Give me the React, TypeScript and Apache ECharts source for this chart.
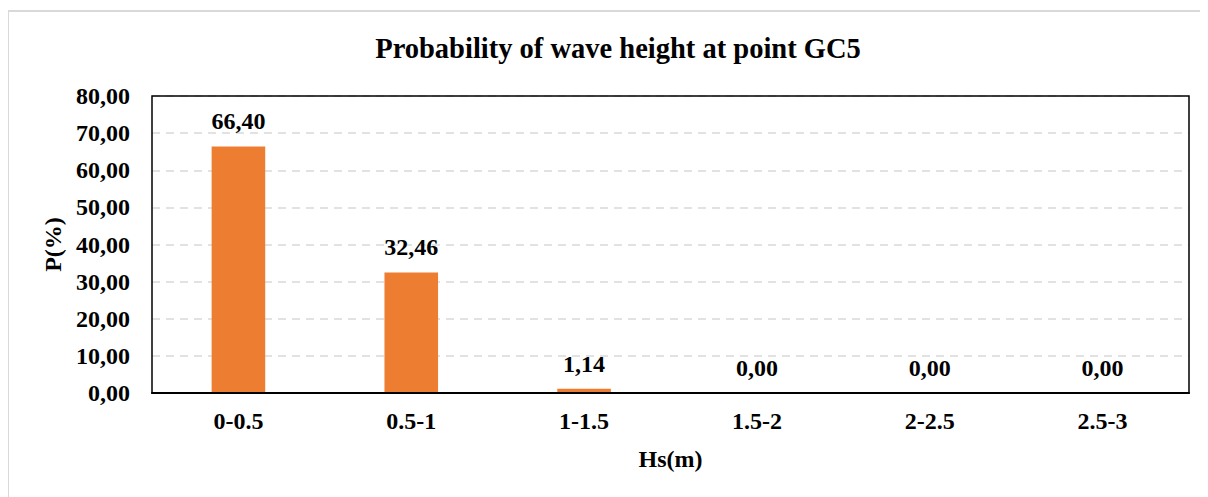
import React, { useEffect, useRef } from "react";
import * as echarts from "echarts";

const categories = ["0-0.5", "0.5-1", "1-1.5", "1.5-2", "2-2.5", "2.5-3"];
const probability = [66.4, 32.46, 1.14, 0.0, 0.0, 0.0];
const yTicks = { min: 0, max: 80, interval: 10 };

const FONT = "'Liberation Serif', 'Times New Roman', serif";
const fmt = (v: number) => v.toFixed(2).replace(".", ",");

// plot-area placement inside the 1200x489 canvas
const GRID = { left: 144, top: 88, right: 19, bottom: 104 };
const W = 1200;
const H = 489;

export default function App() {
  const ref = useRef<HTMLDivElement>(null);

  useEffect(() => {
    if (!ref.current) return;
    const chart = echarts.init(ref.current, undefined, { renderer: "svg" });
    const baseText = { fontFamily: FONT, fontWeight: "bold", fontSize: 24, color: "#000" };
    chart.setOption({
      animation: false,
      backgroundColor: "#fff",
      textStyle: { fontFamily: FONT },
      title: {
        text: "Probability of wave height at point GC5",
        left: 605,
        top: 21,
        textAlign: "center",
        textStyle: { fontFamily: FONT, fontWeight: "bold", fontSize: 28.5, color: "#000" },
      },
      graphic: [
        {
          type: "rect",
          shape: { x: 0, y: 3, width: 1220, height: 520 },
          style: { fill: "none", stroke: "#d9d9d9", lineWidth: 2 },
          silent: true,
          z: 0,
        },
        {
          // plot-area frame drawn above the dashed split lines
          type: "rect",
          shape: {
            x: GRID.left,
            y: GRID.top,
            width: W - GRID.left - GRID.right,
            height: H - GRID.top - GRID.bottom,
          },
          style: { fill: "none", stroke: "#000", lineWidth: 1.5 },
          silent: true,
          z: 100,
        },
      ],
      grid: { ...GRID, show: false },
      xAxis: {
        type: "category",
        data: categories,
        name: "Hs(m)",
        nameLocation: "middle",
        nameGap: 54,
        nameTextStyle: { ...baseText, verticalAlign: "top" },
        axisLine: { lineStyle: { color: "#000", width: 2 } },
        axisTick: { show: false },
        axisLabel: { ...baseText, margin: 16 },
        z: 101,
      },
      yAxis: {
        type: "value",
        min: yTicks.min,
        max: yTicks.max,
        interval: yTicks.interval,
        name: "P(%)",
        nameLocation: "middle",
        nameGap: 86,
        nameTextStyle: baseText,
        axisLine: { show: false },
        axisTick: { show: false },
        axisLabel: { ...baseText, margin: 22, formatter: (v: number) => fmt(v) },
        splitLine: { lineStyle: { color: "#d9d9d9", type: [8, 6], width: 1.5 } },
      },
      series: [
        {
          type: "bar",
          data: probability,
          barWidth: "31%",
          itemStyle: { color: "#ED7D31" },
          label: {
            show: true,
            position: "top",
            distance: 13,
            ...baseText,
            formatter: (p: any) => fmt(p.value),
          },
        },
      ],
    });
    return () => chart.dispose();
  }, []);

  return <div ref={ref} style={{ width: W, height: H }} />;
}
